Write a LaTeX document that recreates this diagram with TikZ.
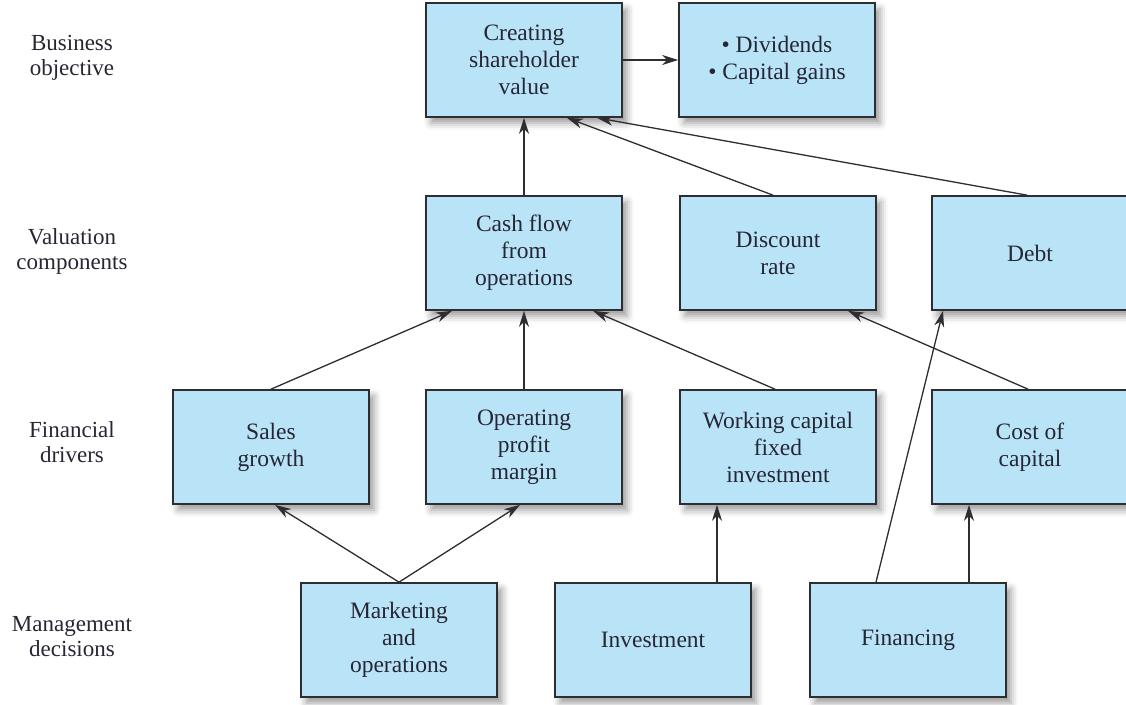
\documentclass[tikz,border=0pt]{standalone}
\usepackage{fontspec}
\setmainfont{Liberation Serif}
\usetikzlibrary{arrows.meta,shadows.blur}

\definecolor{boxfill}{RGB}{185,228,247}
\definecolor{boxline}{RGB}{45,45,50}
\definecolor{inktext}{RGB}{38,38,52}

\tikzset{
  stage/.style={
    draw=boxline, line width=1.7pt, fill=boxfill,
    minimum width=196pt, minimum height=114pt,
    align=center, text=inktext, inner sep=2pt,
    font=\fontsize{23.5}{27}\selectfont,
    blur shadow={shadow xshift=5pt, shadow yshift=-6pt,
                 shadow blur radius=7pt, shadow opacity=40}
  },
  level/.style={align=center, text=inktext,
    font=\fontsize{23}{25}\selectfont},
  link/.style={draw=boxline, line width=1.3pt,
    -{Stealth[length=16pt,width=10pt,inset=5pt]}}
}

\begin{document}
\begin{tikzpicture}[x=1pt,y=-1pt]
\useasboundingbox (0,0) rectangle (1126,704);

% level captions
\node[level] (lvA) at (72,58)  {Business\\objective};
\node[level] (lvB) at (72,251) {Valuation\\components};
\node[level] (lvC) at (72,442) {Financial\\drivers};
\node[level] (lvD) at (72,637) {Management\\decisions};

% business objective
\node[stage] (creat) at (524,60)  {Creating\\shareholder\\value};
\node[stage] (div)   at (777,60)  {\textbullet\ Dividends\\\textbullet\ Capital gains};

% valuation components
\node[stage] (cash)  at (524,253) {Cash flow\\from\\operations};
\node[stage] (disc)  at (778,253) {Discount\\rate};
\node[stage] (debt)  at (1030,253) {Debt};

% financial drivers
\node[stage] (sales) at (271,447) {Sales\\growth};
\node[stage] (opm)   at (524,447) {Operating\\profit\\margin};
\node[stage] (wc)    at (778,447) {Working capital\\fixed\\investment};
\node[stage] (coc)   at (1030,447) {Cost of\\capital};

% management decisions
\node[stage] (mkt)   at (399,640) {Marketing\\and\\operations};
\node[stage] (inv)   at (653,640) {Investment};
\node[stage] (fin)   at (908,640) {Financing};

% connectors
\draw[link] (creat.east) -- (div.west);
\draw[link] (cash.north) -- (creat.south);
\draw[link] ([xshift=-5pt]disc.north) -- ([xshift=43pt]creat.south);
\draw[link] ([xshift=-3pt]debt.north) -- ([xshift=73pt]creat.south);

\draw[link] (sales.north) -- ([xshift=-72pt]cash.south);
\draw[link] (opm.north) -- (cash.south);
\draw[link] ([xshift=-3pt]wc.north) -- ([xshift=69pt]cash.south);
\draw[link] ([xshift=-2pt]coc.north) -- ([xshift=70pt]disc.south);

\draw[link] (mkt.north) -- ([xshift=4pt]sales.south);
\draw[link] (mkt.north) -- ([xshift=-4pt]opm.south);
\draw[link] ([xshift=64pt]inv.north) -- ([xshift=64pt]inv.north |- wc.south);
\draw[link] ([xshift=-32pt]fin.north) -- ([xshift=-87pt]debt.south);
\draw[link] ([xshift=61pt]fin.north) -- ([xshift=61pt]fin.north |- coc.south);
\end{tikzpicture}
\end{document}
